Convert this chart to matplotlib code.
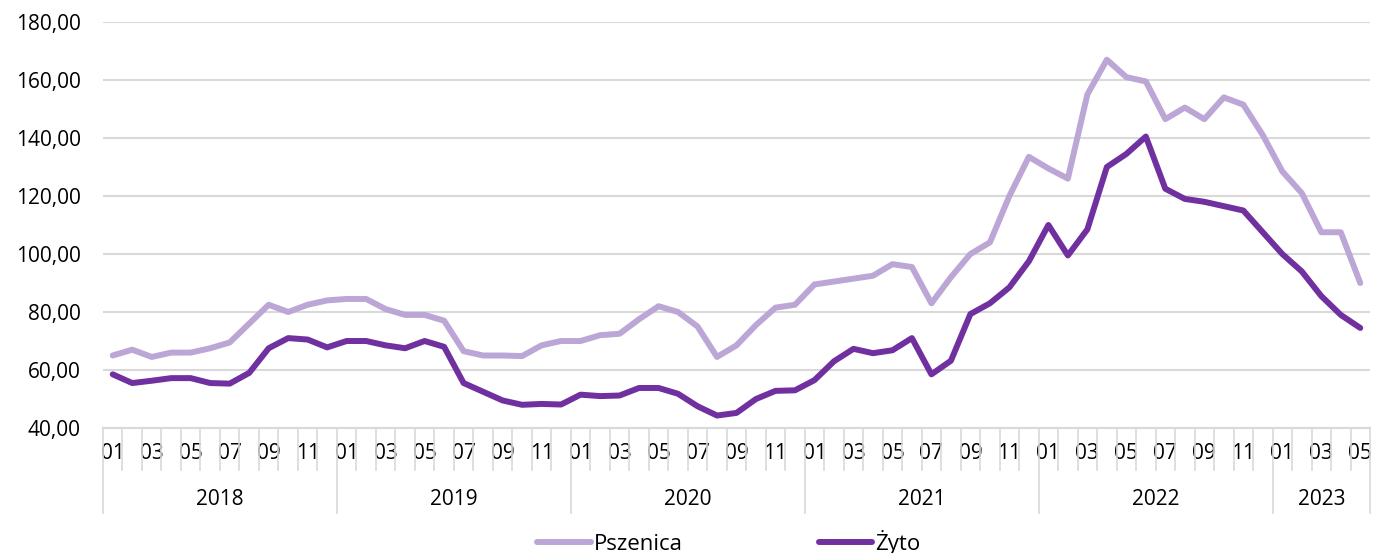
import matplotlib.pyplot as plt
import matplotlib.transforms as mtransforms
from matplotlib.lines import Line2D

plt.rcParams['font.family'] = ['Open Sans', 'DejaVu Sans']

years = ['2018', '2019', '2020', '2021', '2022', '2023']
months_per_year = [12, 12, 12, 12, 12, 5]

pszenica = [
    65, 67, 64.5, 66, 66, 67.5, 69.5, 76, 82.5, 80, 82.5, 84,
    84.5, 84.5, 81, 79, 79, 77, 66.5, 65, 65, 64.8, 68.5, 70,
    70, 72, 72.5, 77.5, 82, 80, 75, 64.5, 68.5, 75.5, 81.5, 82.5,
    89.5, 90.5, 91.5, 92.5, 96.5, 95.5, 83, 92, 100, 104, 120, 133.5,
    129.5, 126, 155, 167, 161, 159.5, 146.5, 150.5, 146.5, 154, 151.5, 141,
    128.5, 121, 107.5, 107.5, 90,
]
zyto = [
    58.5, 55.5, 56.3, 57.2, 57.2, 55.5, 55.3, 59, 67.5, 71, 70.5, 67.8,
    70, 70, 68.5, 67.5, 70, 68, 55.5, 52.5, 49.5, 48, 48.3, 48.1,
    51.5, 51, 51.2, 53.8, 53.8, 51.8, 47.5, 44.3, 45.2, 50, 52.8, 53,
    56.5, 63, 67.3, 65.8, 66.8, 71, 58.5, 63.2, 79.3, 83, 88.5, 97.5,
    110, 99.5, 108.5, 130, 134.5, 140.5, 122.5, 119, 118, 116.5, 115, 107.5,
    100, 94, 85.5, 79, 74.5,
]

month_labels = []
for n in months_per_year:
    month_labels += ['%02d' % (m + 1) for m in range(n)]
x = list(range(len(month_labels)))

fig = plt.figure(figsize=(13.73, 5.53), dpi=100)
ax = fig.add_axes([103 / 1373, 125 / 553, 1267 / 1373, 406 / 553])

grid_c = '#D9D9D9'
ax.plot(x, pszenica, color='#BBA6D6', lw=4.3, solid_capstyle='round', label='Pszenica', zorder=3)
ax.plot(x, zyto, color='#7030A0', lw=4.3, solid_capstyle='round', label='Żyto', zorder=4)

ax.set_ylim(40, 180)
ax.set_yticks(range(40, 181, 20))
ax.set_yticklabels(['%d,00' % v for v in range(40, 181, 20)], fontsize=15)
ax.yaxis.grid(True, color=grid_c, lw=1.5)
ax.set_axisbelow(True)
ax.set_xlim(-0.5, len(x) - 0.5)

ax.set_xticks(x)
ax.set_xticklabels([l if i % 2 == 0 else '' for i, l in enumerate(month_labels)], fontsize=15)
ax.tick_params(axis='both', length=0)
ax.tick_params(axis='x', pad=11)
ax.tick_params(axis='y', pad=16)

for s in ['top', 'right', 'left']:
    ax.spines[s].set_visible(False)
ax.spines['bottom'].set_color(grid_c)
ax.spines['bottom'].set_linewidth(1.5)

# category separators and year groups
trans = mtransforms.blended_transform_factory(ax.transData, ax.transAxes)
pos = -0.5
year_edges = [pos]
for n in months_per_year:
    pos += n
    year_edges.append(pos)
for b in [i - 0.5 for i in range(len(x) + 1)]:
    depth = -0.21 if b in year_edges else -0.103
    ax.add_line(Line2D([b, b], [0, depth], transform=trans, color=grid_c, lw=1.2, clip_on=False))
for i, yr in enumerate(years):
    mid = (year_edges[i] + year_edges[i + 1]) / 2
    ax.text(mid, -0.177, yr, transform=trans, ha='center', va='center', fontsize=15)

fig.legend(loc='lower center', bbox_to_anchor=(0.531, -0.04), ncol=2, frameon=False,
           fontsize=16, handlelength=2.4, handletextpad=0.15, columnspacing=6.1)

fig.savefig('out.png', dpi=100)
